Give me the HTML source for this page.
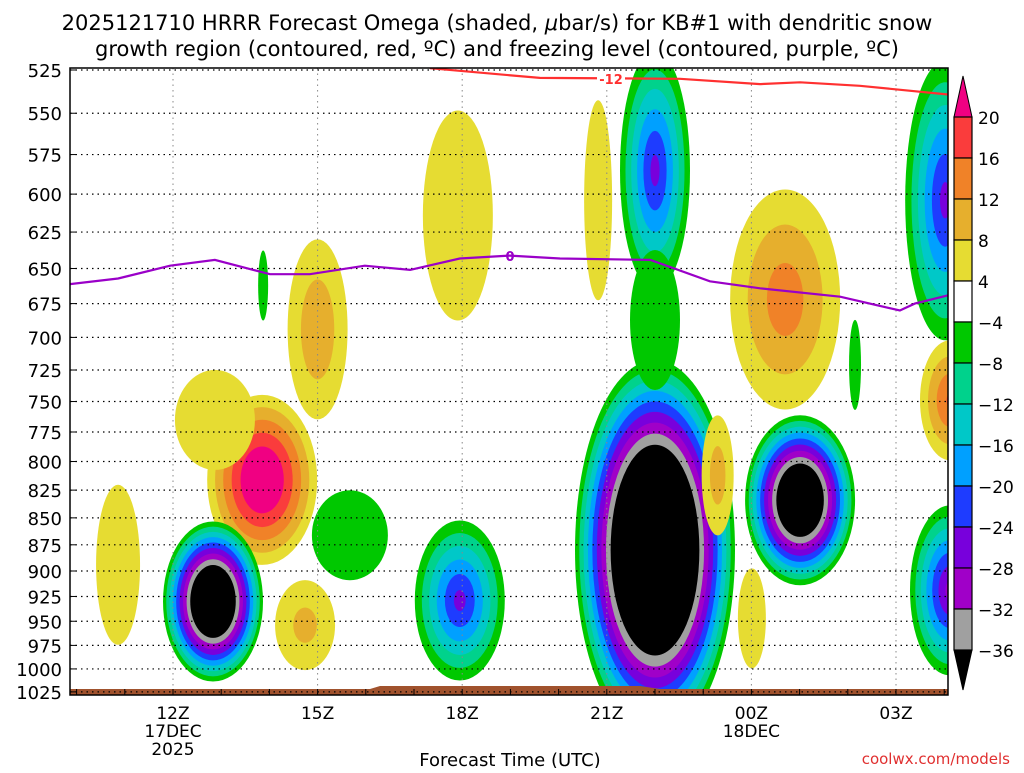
<!DOCTYPE html>
<html><head><meta charset="utf-8"><style>
body{margin:0;background:#fff;}
svg text{font-family:"DejaVu Sans","Liberation Sans",sans-serif;}
</style></head><body>
<svg id="c" width="1024" height="768" xmlns="http://www.w3.org/2000/svg">
<defs><clipPath id="pc"><rect x="70" y="68" width="878" height="627"/></clipPath></defs>
<text x="497" y="30" font-size="21" text-anchor="middle">2025121710 HRRR Forecast Omega (shaded, <tspan font-style="italic">μ</tspan>bar/s) for KB#1 with dendritic snow</text>
<text x="497" y="56" font-size="21" text-anchor="middle">growth region (contoured, red, ºC) and freezing level (contoured, purple, ºC)</text>
<g id="shade" clip-path="url(#pc)"></g>
<g id="grid"></g>
<g id="lines" clip-path="url(#pc)"></g>
<rect x="70" y="68" width="878" height="627" fill="none" stroke="#000" stroke-width="1.5"/>
<g id="axes"></g>
<g id="cbar"></g>
<text x="510" y="766" font-size="18" text-anchor="middle">Forecast Time (UTC)</text>
<text x="1010" y="764" font-size="15" fill="#e03030" text-anchor="end">coolwx.com/models</text>
</svg>
<script>
// ---- data ----
const pressureTicks=[525,550,575,600,625,650,675,700,725,750,775,800,825,850,875,900,925,950,975,1000,1025];
const timeTickHours=[0,3,6,9,12,15];
const timeTickLabels=["12Z","15Z","18Z","21Z","00Z","03Z"];
const levels=[4,8,12,16,20];
const posColors=["#e6dc32","#e6af2d","#f08228","#fa3c3c","#f00082"];
const negLevels=[-4,-8,-12,-16,-20,-24,-28,-32,-36];
const negColors=["#00c800","#00d28c","#00c8c8","#00a0ff","#1e3cff","#7800dc","#a000c8","#a0a0a0","#000000"];
// omega cells: hour offset from 12Z, pressure (hPa), peak omega (μbar/s)
const blobTime=[1.85,0.87,3.0,2.74,-1.14,5.91,8.82,12.01,12.70,16.12, 0.83,3.67,1.87,5.95,10.0,10.0,10.0,13.01,14.15,16.02,16.12, 11.3];
const blobPres=[816,765,694,954,894,614,604,947,672,749, 930,866,662,929,880,585,687,834,721,604,919, 812];
const blobPeak=[28,7,12,10,6,6,5,7,15,17, -57,-7,-6,-26,-68,-26,-8,-55,-6,-26,-30, 11];
// cell outer (|4|) radii, px
const blobRx=[55,40,30,30,22,35,14,14,55,30, 50,38,5,45,80,35,25,55,6,40,40, 16];
const blobRy=[85,50,90,45,80,105,100,50,110,60, 80,45,35,80,190,120,70,85,45,140,85, 60];
const frzTime=[-2.14,-1.14,-0.06,0.87,2.01,2.84,3.98,4.92,5.95,6.99,8.03,9.9,11.14,12.18,13.84,15.08,15.39,16.08];
const frzPres=[661,657,648,644,654,654,648,651,643,641,643,644,659,664,670,680,675,669];
const dgzTime=[5.33,7.61,10.52,12.18,13.01,14.25,16.08];
const dgzPres=[524,529.5,530,533,532,534,539];
// ---- scales ----
const X=t=>173+t*48.2;
const Y=p=>70+929.5*Math.log(p/525);
const NS="http://www.w3.org/2000/svg";
function mk(tag,attrs,parent){const e=document.createElementNS(NS,tag);for(const k in attrs)e.setAttribute(k,attrs[k]);parent.appendChild(e);return e;}
const shade=document.getElementById('shade');
blobTime.forEach((t,i)=>{
  const pk=Math.abs(blobPeak[i]);const pos=blobPeak[i]>0;
  const lv=pos?levels:negLevels;const cl=pos?posColors:negColors;
  for(let j=0;j<lv.length;j++){
    const thr=Math.abs(lv[j]);if(pk<=thr)break;
    const f=Math.pow((pk-thr)/(pk-4),0.85);
    const e=mk('ellipse',{cx:X(t),cy:Y(blobPres[i]),rx:blobRx[i]*f,ry:blobRy[i]*f,fill:cl[j]},shade);
    
    
  }
});
const gp=mk('path',{d:"M70 689 L370 689 L380 686 L640 686 L660 689 L948 689 L948 695 L70 695 Z",fill:"#a0522d"},shade);


const grid=document.getElementById('grid'),axes=document.getElementById('axes');
pressureTicks.forEach(p=>{
  const y=Y(p);
  const l=mk('line',{x1:70,x2:948,y1:y,y2:y,stroke:"#000","stroke-dasharray":"1.5,4","stroke-width":1.2},grid);
  
  
  const tx=mk('text',{x:62,y:y+7,"font-size":18,"text-anchor":"end"},axes);tx.textContent=p;
  
  
  mk('line',{x1:70,x2:76,y1:y,y2:y,stroke:"#000"},axes);
});
for(let h=-2;h<=16;h++){
  const x=X(h);if(x<70||x>948)continue;
  mk('line',{x1:x,x2:x,y1:695,y2:689,stroke:"#000"},axes);
}
timeTickHours.forEach((h,i)=>{
  const x=X(h);
  const l=mk('line',{x1:x,x2:x,y1:68,y2:695,stroke:"#888","stroke-dasharray":"1.5,4"},grid);
  
  
  const tx=mk('text',{x:x,y:719,"font-size":17,"text-anchor":"middle"},axes);tx.textContent=timeTickLabels[i];
  
  
});
[["17DEC",X(0),737],["2025",X(0),755],["18DEC",X(12),737]].forEach(d=>{
  const tx=mk('text',{x:d[1],y:d[2],"font-size":17,"text-anchor":"middle"},axes);tx.textContent=d[0];
  
  
});
const lines=document.getElementById('lines');
function poly(ts,ps,col,name){
  const d=ts.map((t,i)=>(i?'L':'M')+X(t).toFixed(1)+' '+Y(ps[i]).toFixed(1)).join(' ');
  const e=mk('path',{d:d,fill:"none",stroke:col,"stroke-width":2.2},lines);
  
  
}
poly(frzTime,frzPres,"#9a00c8","freezing-level-line");
poly(dgzTime,dgzPres,"#ff3030","dgz-minus12-line");
const l0=mk('text',{x:510,y:261,"font-size":13,"font-weight":"bold",fill:"#9a00c8","text-anchor":"middle"},lines);l0.textContent="0";


mk('rect',{x:597,y:72,width:28,height:14,fill:"#fff"},lines);
const l12t=mk('text',{x:611,y:84,"font-size":13,"font-weight":"bold",fill:"#ff3030","text-anchor":"middle"},lines);l12t.textContent="-12";


const cb=document.getElementById('cbar');
const cbColors=["#fa3c3c","#f08228","#e6af2d","#e6dc32","#ffffff","#00c800","#00d28c","#00c8c8","#00a0ff","#1e3cff","#7800dc","#a000c8","#a0a0a0"];
const cbLabels=["20","16","12","8","4","−4","−8","−12","−16","−20","−24","−28","−32","−36"];
const cbTop=117,cbStep=41;
mk('polygon',{points:`954,${cbTop} 972,${cbTop} 963,76`,fill:"#f00082",stroke:"#000"},cb);
cbColors.forEach((c,i)=>{const r=mk('rect',{x:954,y:cbTop+i*cbStep,width:18,height:cbStep,fill:c,stroke:"#000","stroke-width":1.2},cb);
 
 });
const yb=cbTop+13*cbStep;
mk('polygon',{points:`954,${yb} 972,${yb} 963,${yb+40}`,fill:"#000",stroke:"#000"},cb);
cbLabels.forEach((s,i)=>{const t=mk('text',{x:978,y:cbTop+i*cbStep+7,"font-size":17},cb);t.textContent=s;
 
 });
</script>
</body></html>
